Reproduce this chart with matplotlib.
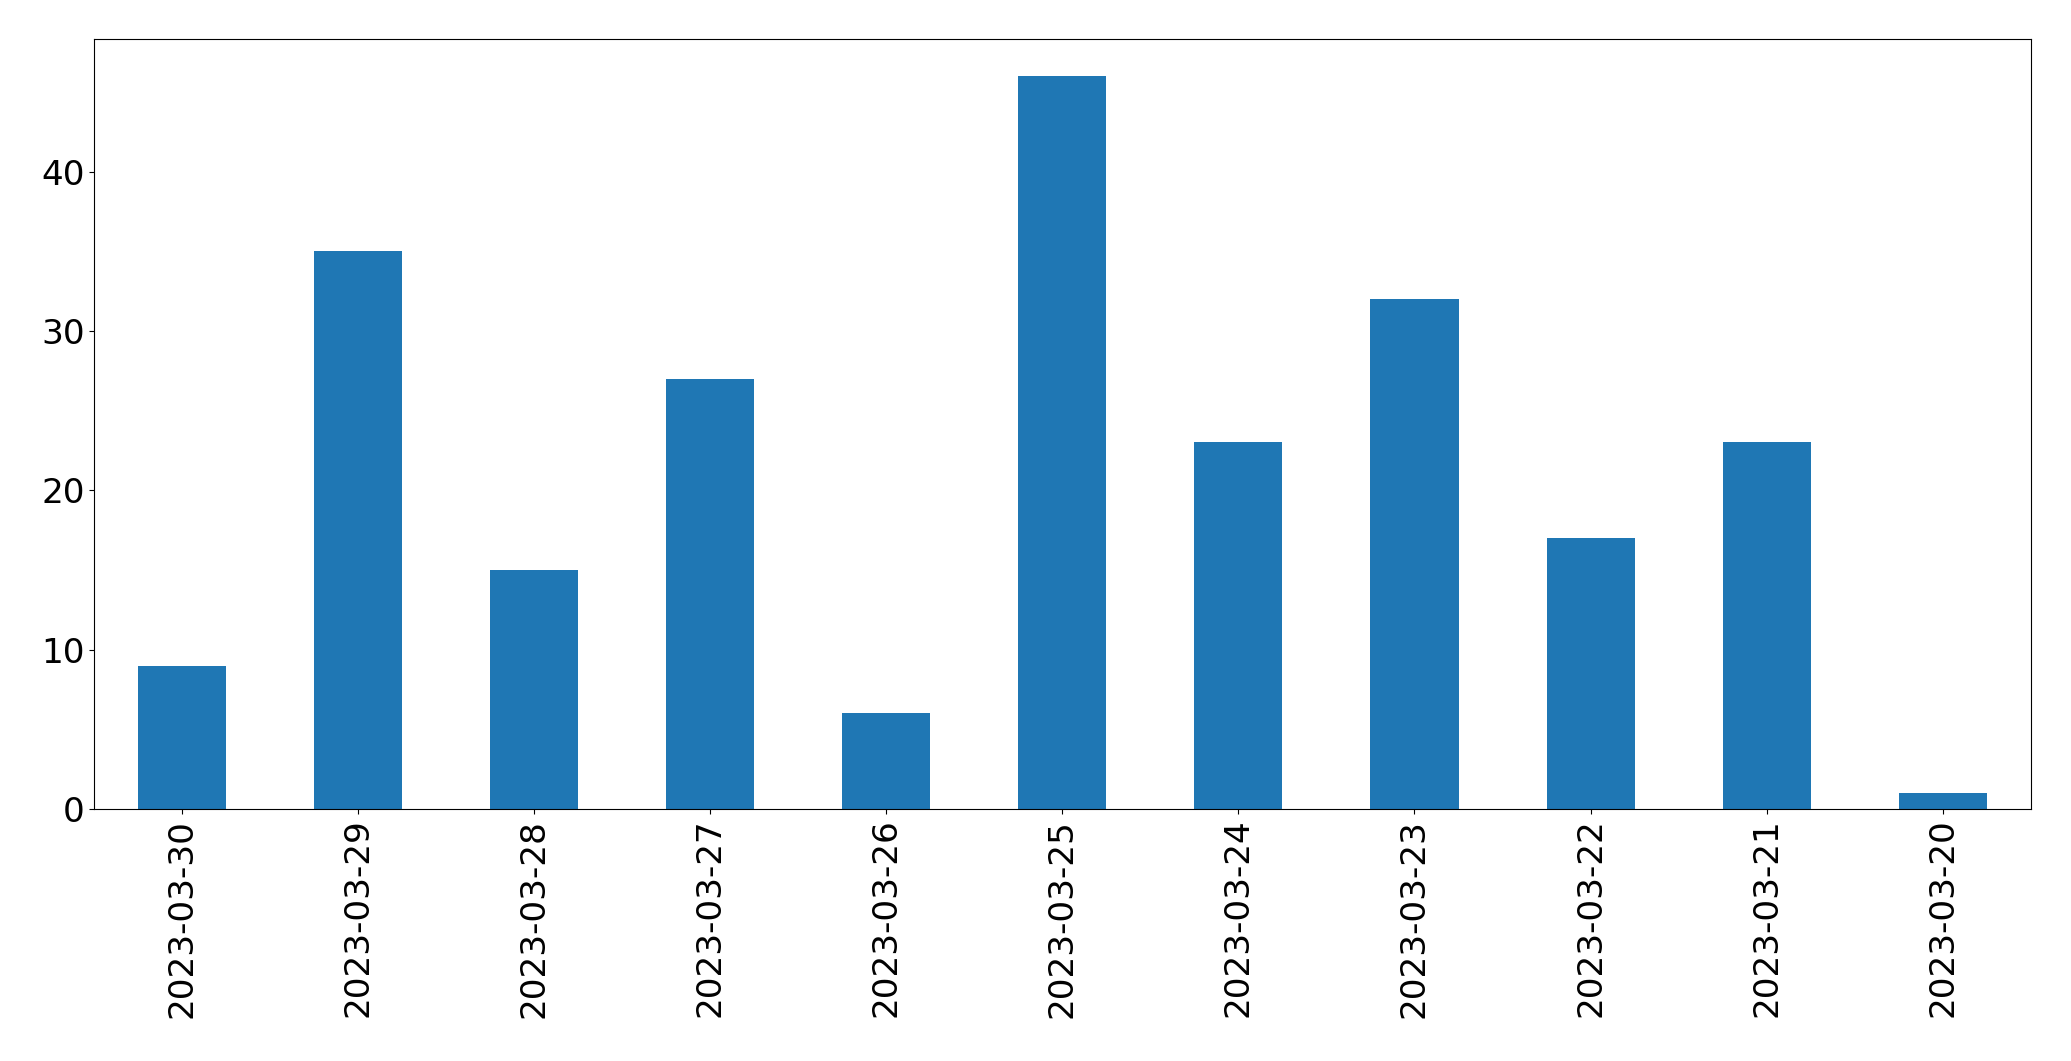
import matplotlib
matplotlib.use("Agg")
import matplotlib.pyplot as plt
import pandas as pd

DATES = ["2023-03-30", "2023-03-29", "2023-03-28", "2023-03-27", "2023-03-26",
         "2023-03-25", "2023-03-24", "2023-03-23", "2023-03-22", "2023-03-21",
         "2023-03-20"]
COUNTS = [9, 35, 15, 27, 6, 46, 23, 32, 17, 23, 1]


def main():
  counts = pd.Series(COUNTS, index=DATES)
  fig = plt.figure(figsize=(20.71, 10.61), dpi=100)
  ax = fig.add_axes([0.0455, 0.2375, 0.935, 0.7255])
  counts.plot(kind="bar", ax=ax, color="#1f77b4", fontsize=24.7)
  ax.tick_params(axis="x", labelrotation=90)
  fig.savefig("out.png", dpi=100)


if __name__ == "__main__":
  main()
